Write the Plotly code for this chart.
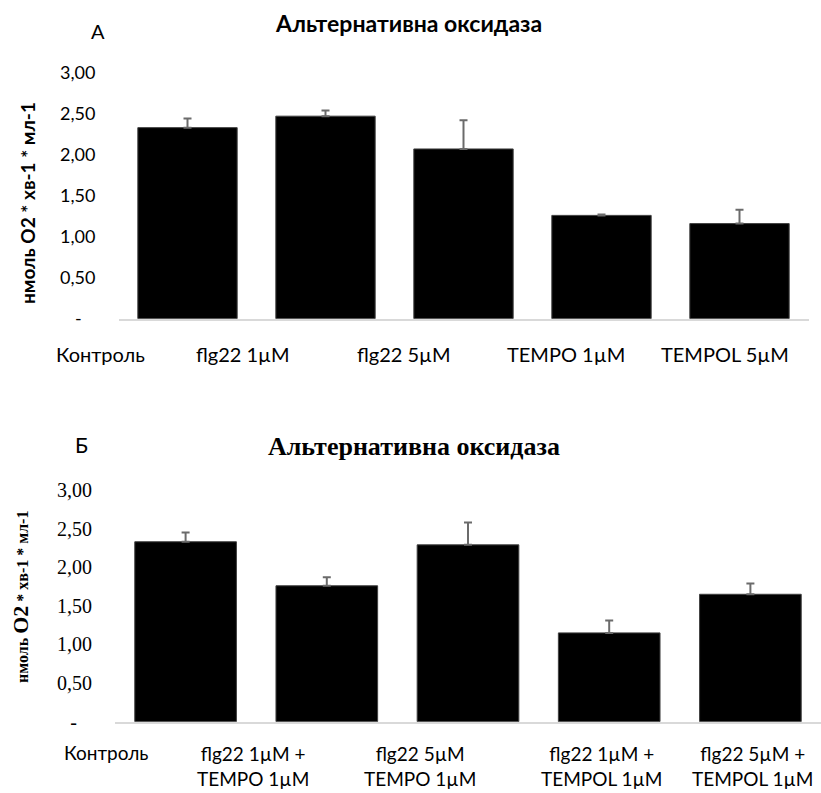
import plotly.graph_objects as go

# ---- data ----
cats_a = ["Контроль", "flg22 1µM", "flg22 5µM", "TEMPO 1µM", "TEMPOL 5µM"]
vals_a = [2.33, 2.47, 2.07, 1.26, 1.16]
err_a = [0.11, 0.07, 0.35, 0.01, 0.17]

cats_b = ["Контроль", "flg22 1µM +<br>TEMPO 1µM", "flg22 5µM<br>TEMPO 1µM",
          "flg22 1µM +<br>TEMPOL 1µM", "flg22 5µM +<br>TEMPOL 1µM"]
vals_b = [2.33, 1.76, 2.29, 1.15, 1.65]
err_b = [0.12, 0.11, 0.29, 0.16, 0.14]

tick_vals = [0, 0.5, 1.0, 1.5, 2.0, 2.5, 3.0]
tick_text = ["-\u00a0\u00a0\u00a0", "0,50", "1,00", "1,50", "2,00", "2,50", "3,00"]

title_text = "Альтернативна оксидаза"

W, H = 821, 793
SANS = "Lato, 'Open Sans', sans-serif"
SERIF = "'Liberation Serif', 'Times New Roman', serif"


def px_x(p):
    return p / W


def px_y(p):
    return 1 - p / H


fig = go.Figure()

bar_style = dict(marker=dict(color="black", line=dict(color="#404040", width=1)),
                 width=0.72, showlegend=False)
err_style = dict(type="data", symmetric=False, color="#6b6b6b", thickness=2, width=4)

fig.add_trace(go.Bar(x=list(range(len(cats_a))), y=vals_a, xaxis="x", yaxis="y",
                     error_y=dict(array=err_a, **err_style), **bar_style))
fig.add_trace(go.Bar(x=list(range(len(cats_b))), y=vals_b, xaxis="x2", yaxis="y2",
                     error_y=dict(array=err_b, **err_style), **bar_style))

xa = dict(range=[-0.5, 4.5], showticklabels=False, ticks="", showgrid=False,
          zeroline=False, showline=True, linecolor="#d9d9d9", linewidth=1.5,
          fixedrange=True, automargin=False)

fig.update_layout(
    width=W, height=H,
    autosize=False,
    margin=dict(l=0, r=0, t=0, b=0, pad=0, autoexpand=False),
    paper_bgcolor="white", plot_bgcolor="white",
    xaxis=dict(domain=[px_x(118.5), px_x(808.5)], anchor="y", **xa),
    xaxis2=dict(domain=[px_x(115), 1.0], anchor="y2", **xa),
    yaxis=dict(domain=[px_y(318.7), px_y(72.7)], range=[0, 3], anchor="x",
               tickvals=tick_vals, ticktext=tick_text, showgrid=False, zeroline=False,
               showline=False, ticks="", ticklabelstandoff=22, automargin=False,
               tickfont=dict(family=SANS, size=18, color="black")),
    yaxis2=dict(domain=[px_y(721.7), px_y(490)], range=[0, 3], anchor="x2",
                tickvals=tick_vals, ticktext=tick_text, showgrid=False, zeroline=False,
                showline=False, ticks="", ticklabelstandoff=22, automargin=False,
                tickfont=dict(family=SERIF, size=20, color="black")),
)

ann = []
# titles
ann.append(dict(text="<b>" + title_text + "</b>", x=px_x(408.5), y=px_y(23), xref="paper", yref="paper",
                showarrow=False, xanchor="center", yanchor="middle",
                font=dict(family=SANS, size=23, color="black")))
ann.append(dict(text="<b>" + title_text + "</b>", x=px_x(414), y=px_y(446), xref="paper", yref="paper",
                showarrow=False, xanchor="center", yanchor="middle",
                font=dict(family=SERIF, size=26, color="black")))
# panel letters
ann.append(dict(text="А", x=px_x(97.5), y=px_y(31), xref="paper", yref="paper", showarrow=False,
                xanchor="center", yanchor="middle", font=dict(family=SANS, size=20, color="black")))
ann.append(dict(text="Б", x=px_x(81.5), y=px_y(445), xref="paper", yref="paper", showarrow=False,
                xanchor="center", yanchor="middle", font=dict(family=SANS, size=21, color="black")))
# y-axis titles
ann.append(dict(text="<b>нмоль О2 * хв-1 * мл-1</b>", x=px_x(27), y=px_y(203), xref="paper", yref="paper",
                showarrow=False, textangle=-90, xanchor="center", yanchor="middle",
                font=dict(family=SANS, size=19, color="black")))
ann.append(dict(text="<b>нмоль <span style='font-size:22px'>О2</span> * хв-1 * мл-1</b>",
                x=px_x(20), y=px_y(597), xref="paper", yref="paper",
                showarrow=False, textangle=-90, xanchor="center", yanchor="middle",
                font=dict(family=SERIF, size=16, color="black")))
# category labels
label_x_a = [100, 243, 404, 566, 725]
for c, xp in zip(cats_a, label_x_a):
    ann.append(dict(text=c, x=px_x(xp), y=px_y(354), xref="paper", yref="paper", showarrow=False,
                    xanchor="center", yanchor="middle", font=dict(family=SANS, size=20, color="black")))
label_x_b = [106, 253, 420, 602, 753]
for c, xp in zip(cats_b, label_x_b):
    if "<br>" in c:
        ann.append(dict(text=c, x=px_x(xp), y=px_y(791), xref="paper", yref="paper", showarrow=False,
                        xanchor="center", yanchor="bottom", align="center", borderpad=0,
                        font=dict(family=SANS, size=19, color="black")))
    else:
        ann.append(dict(text=c, x=px_x(xp), y=px_y(752), xref="paper", yref="paper", showarrow=False,
                        xanchor="center", yanchor="middle", align="center",
                        font=dict(family=SANS, size=19, color="black")))

fig.update_layout(annotations=ann)
fig.write_html("out.html", config={"displayModeBar": False},
               post_script="document.body.style.margin='0';document.body.style.padding='0';"
                           "document.body.style.overflow='hidden';")
